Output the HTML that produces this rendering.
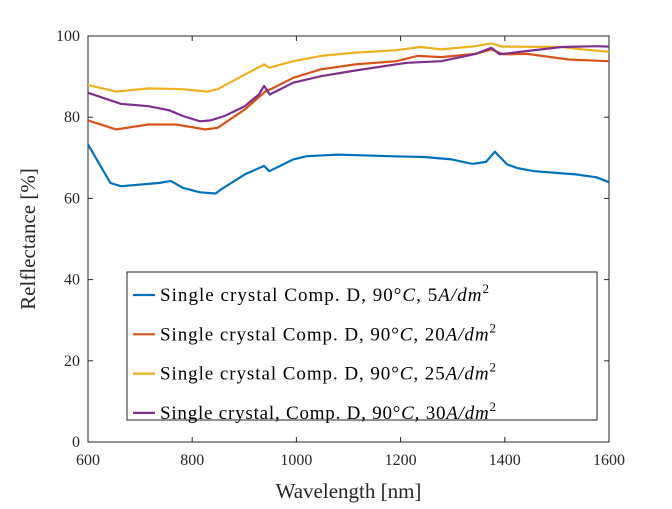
<!DOCTYPE html>
<html><head><meta charset="utf-8"><style>
body{margin:0;background:#fff}
svg{font-family:"Liberation Serif",serif}
.m{font-style:italic}
</style></head><body>
<svg width="672" height="504" viewBox="0 0 672 504">
<g id="plot"></g>
</svg>
<script>
const xTicks=[600,800,1000,1200,1400,1600];
const yTicks=[0,20,40,60,80,100];
const blueX=[600,643,663,736,759,782,815,845,855,901,938,948,994,1020,1080,1179,1245,1298,1338,1364,1381,1404,1423,1456,1536,1576,1600];
const blueY=[73.3,63.8,63,63.8,64.3,62.6,61.5,61.2,62.2,65.9,68,66.7,69.6,70.4,70.8,70.4,70.2,69.6,68.5,69,71.5,68.4,67.5,66.7,65.9,65.2,64];
const orangeX=[600,654,716,769,825,849,901,941,954,994,1047,1113,1192,1232,1278,1344,1374,1397,1443,1522,1600];
const orangeY=[79.2,77,78.2,78.2,77,77.4,81.9,86.4,87.1,89.7,91.8,93,93.8,95.1,94.8,95.6,96.7,95.5,95.6,94.2,93.8];
const yellowX=[600,654,716,782,829,849,895,938,948,994,1047,1113,1192,1238,1278,1344,1374,1394,1509,1549,1600];
const yellowY=[87.9,86.3,87.1,86.9,86.3,86.9,90.1,93,92.2,93.8,95.1,95.9,96.5,97.3,96.7,97.5,98.2,97.4,97.3,96.7,96.1];
const purpleX=[600,663,716,756,782,815,835,862,901,928,938,949,994,1047,1113,1212,1278,1344,1374,1390,1443,1509,1575,1600];
const purpleY=[86,83.3,82.7,81.7,80.3,79,79.2,80.3,82.7,85.6,87.7,85.6,88.5,90.1,91.5,93.4,93.8,95.6,97.1,95.5,96.3,97.3,97.5,97.4];
const labelPrefix=["Single crystal Comp. D, ","Single crystal Comp. D, ","Single crystal Comp. D, ","Single crystal, Comp. D, "];
const labelCurrent=["5","20","25","30"];

const L=88,R=609,T=36,B=442;
const sx=v=>L+(v-600)/1000*(R-L);
const sy=v=>B-v/100*(B-T);
const NS="http://www.w3.org/2000/svg";
const g=document.getElementById('plot');
function mk(t,a,p){const e=document.createElementNS(NS,t);for(const k in a)e.setAttribute(k,a[k]);(p||g).appendChild(e);return e;}

let fr=mk('rect',{x:L,y:T,width:R-L,height:B-T,fill:'#fff',stroke:'#262626','stroke-width':1});



xTicks.forEach(v=>{
  mk('line',{x1:sx(v),x2:sx(v),y1:B,y2:B-5,stroke:'#262626'});
  mk('line',{x1:sx(v),x2:sx(v),y1:T,y2:T+5,stroke:'#262626'});
  let t=mk('text',{x:sx(v),y:B+23,'text-anchor':'middle','font-size':16,fill:'#262626'});
  t.textContent=v;
  
  
});
yTicks.forEach(v=>{
  mk('line',{x1:L,x2:L+5,y1:sy(v),y2:sy(v),stroke:'#262626'});
  mk('line',{x1:R,x2:R-5,y1:sy(v),y2:sy(v),stroke:'#262626'});
  let t=mk('text',{x:L-8,y:sy(v)+5,'text-anchor':'end','font-size':16,fill:'#262626'});
  t.textContent=v;
  
  
});

const series=[[blueX,blueY,'#0072BD'],[orangeX,orangeY,'#D95319'],[yellowX,yellowY,'#EDB120'],[purpleX,purpleY,'#7E2F8E']];
const names=['series-5A','series-20A','series-25A','series-30A'];
series.forEach((s,i)=>{
  let d=s[0].map((x,j)=>(j?'L':'M')+sx(x).toFixed(1)+','+sy(s[1][j]).toFixed(1)).join('');
  let p=mk('path',{d:d,fill:'none',stroke:s[2],'stroke-width':2.2,'stroke-linejoin':'round'});
  
  
});

let lg=mk('rect',{x:127,y:272,width:470,height:148,fill:'#fff',stroke:'#262626'});


const lens=[329,336,336,336];
labelPrefix.forEach((lab,i)=>{
  const y=295+i*39.3;
  let l=mk('line',{x1:133,x2:155,y1:y,y2:y,stroke:series[i][2],'stroke-width':2.2});
  
  
  let t=mk('text',{x:160,y:y+6,'font-size':19,fill:'#000',textLength:lens[i],lengthAdjust:'spacing'});
  
  
  const parts=[[lab+'90°',''],['C','m'],[', '+labelCurrent[i],''],['A/dm','m']];
  parts.forEach(p=>{const ts=mk('tspan',{},t);if(p[1])ts.setAttribute('class',p[1]);ts.textContent=p[0];});
  const sup=mk('tspan',{dy:-8,'font-size':13},t);sup.textContent='2';
});

let xt=mk('text',{x:(L+R)/2,y:498,'text-anchor':'middle','font-size':21,fill:'#262626'});
xt.textContent='Wavelength [nm]';


let yt=mk('text',{x:0,y:0,'text-anchor':'middle','font-size':21,fill:'#262626',transform:'translate(35,239) rotate(-90)'});
yt.textContent='Relflectance [%]';


</script>
</body></html>
